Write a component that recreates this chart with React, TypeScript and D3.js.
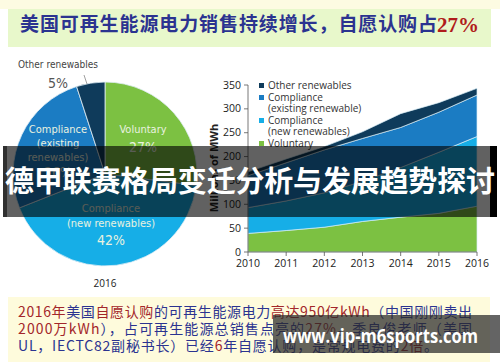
import React from 'react';
import * as d3 from 'd3';

// pie: share of 2016 renewable sales
const pieLabels = ['Voluntary', 'Compliance (new renewables)', 'Compliance (existing renewables)', 'Other renewables'];
const pieShares = [27, 42, 26, 5];

// stacked area: millions of MWh
const years = [2010, 2011, 2012, 2013, 2014, 2015, 2016];
const voluntary = [39, 45, 52, 64, 73, 81, 96];
const complianceNew = [54, 62, 72, 84, 104, 128, 146];
const complianceExisting = [67, 80, 90, 90, 84, 84, 87];
const otherRenewables = [8, 8, 7, 14, 29, 20, 14];
const yTicks = [0, 50, 100, 150, 200, 250, 300, 350];

const legendItems = [
  { key: 'other', lines: ['Other renewables'] },
  { key: 'existing', lines: ['Compliance', '(existing renewable)'] },
  { key: 'newc', lines: ['Compliance', '(new renewables)'] },
  { key: 'voluntary', lines: ['Voluntary'] },
];

const colors: Record<string, string> = {
  voluntary: '#7cc142',
  newc: '#16aee7',
  existing: '#1b7cc3',
  other: '#0f3b5b',
};
const pieColors = [colors.voluntary, colors.newc, colors.existing, colors.other];

const RED = '#a3262a';
const BLUE = '#2b3390';

const cond = "'Liberation Sans Narrow', 'DejaVu Sans Condensed', Roboto, sans-serif";
const cjk = "'Noto Sans CJK SC', sans-serif";

function PieChart() {
  const cx = 105;
  const cy = 174;
  const r = 92;
  const pie = d3.pie<number>().sort(null).value(d => d);
  const arcs = pie(pieShares);
  const arc = d3.arc<d3.PieArcDatum<number>>().innerRadius(0).outerRadius(r);
  const lbl = { fill: '#e9f2e0', fontFamily: cond, textAnchor: 'middle' as const };
  return (
    <g>
      <g transform={`translate(${cx},${cy})`}>
        {arcs.map((a, i) => (
          <path key={pieLabels[i]} d={arc(a) || ''} fill={pieColors[i]} stroke="#dfeef5" strokeWidth={0.8} />
        ))}
      </g>
      <text x={143} y={133} fontSize={11} {...lbl}>Voluntary</text>
      <text x={143} y={152} fontSize={14} {...lbl}>{pieShares[0]}%</text>
      <text x={58} y={133} fontSize={11} {...lbl}>Compliance</text>
      <text x={58} y={147} fontSize={11} {...lbl}>(existing</text>
      <text x={58} y={161} fontSize={11} {...lbl}>renewables)</text>
      <text x={58} y={177} fontSize={14} {...lbl}>{pieShares[2]}%</text>
      <text x={111} y={212} fontSize={11} {...lbl}>Compliance</text>
      <text x={111} y={227} fontSize={11} {...lbl}>(new renewables)</text>
      <text x={111} y={245} fontSize={14} {...lbl}>{pieShares[1]}%</text>
      <text x={58} y={68} fontSize={10} fill="#444" fontFamily={cond} textAnchor="middle">Other renewables</text>
      <text x={58} y={88} fontSize={14} fill="#555" fontFamily={cond} textAnchor="middle">{pieShares[3]}%</text>
      <line x1={84} y1={75} x2={87} y2={84} stroke="#777" strokeWidth={0.7} />
      <text x={105} y={287} fontSize={10} fill="#222" fontFamily="'Open Sans', sans-serif" textAnchor="middle">2016</text>
    </g>
  );
}

function AreaChart() {
  const x = d3.scaleLinear().domain([2010, 2016]).range([248, 477]);
  const y = d3.scaleLinear().domain([0, 350]).range([252, 85]);
  const rows = years.map((yr, i) => ({
    year: yr,
    voluntary: voluntary[i],
    newc: complianceNew[i],
    existing: complianceExisting[i],
    other: otherRenewables[i],
  }));
  const series = d3.stack<any>().keys(['voluntary', 'newc', 'existing', 'other'])(rows);
  const area = d3.area<any>()
    .x(d => x(d.data.year))
    .y0(d => y(d[0]))
    .y1(d => y(d[1]));
  const axisFont = "'Open Sans', sans-serif";
  return (
    <g>
      {series.map(s => (
        <path key={s.key} d={area(s) || ''} fill={colors[s.key]} stroke="#d8eef6" strokeWidth={0.7} />
      ))}
      <line x1={x(2010)} x2={x(2010)} y1={y(350)} y2={y(0)} stroke="#555" strokeWidth={0.8} />
      <line x1={x(2010)} x2={x(2016)} y1={y(0)} y2={y(0)} stroke="#555" strokeWidth={0.8} />
      {yTicks.map(t => (
        <g key={t}>
          <line x1={x(2010) - 4} x2={x(2010)} y1={y(t)} y2={y(t)} stroke="#555" strokeWidth={0.8} />
          <text x={x(2010) - 7} y={y(t) + 3.5} fontSize={10.5} fill="#222" fontFamily={axisFont} textAnchor="end">{t}</text>
        </g>
      ))}
      {years.map(yr => (
        <g key={yr}>
          <line x1={x(yr)} x2={x(yr)} y1={y(0)} y2={y(0) + 4} stroke="#555" strokeWidth={0.8} />
          <text x={x(yr)} y={y(0) + 15} fontSize={10.5} fill="#222" fontFamily={axisFont} textAnchor="middle">{yr}</text>
        </g>
      ))}
      <text transform={`translate(218,168) rotate(-90)`} fontSize={11} fontWeight="bold" fill="#222" fontFamily={axisFont} textAnchor="middle">Millions of MWh</text>
      {(() => {
        let yy = 89;
        return legendItems.map(item => {
          const top = yy;
          yy += item.lines.length * 11 + 1;
          return (
            <g key={item.key}>
              <rect x={259} y={top - 6} width={5} height={5} fill={colors[item.key]} />
              {item.lines.map((ln, j) => (
                <text key={j} x={268} y={top + j * 11} fontSize={10} fill="#333" fontFamily={axisFont}>{ln}</text>
              ))}
            </g>
          );
        });
      })()}
    </g>
  );
}

export default function App() {
  return (
    <svg width={500} height={362} style={{ position: 'absolute', left: 0, top: 0, background: '#fff' }}>
      <rect x={0} y={0} width={500} height={9} fill="#fdfbe2" />
      <rect x={8} y={9} width={483} height={38} fill="#e8f8cb" />
      <text x={20} y={31} fontSize={19} fontWeight="bold" fontFamily={cjk} fill={BLUE} textLength={417} lengthAdjust="spacing">美国可再生能源电力销售持续增长，自愿认购占</text>
      <text x={437} y={32} fontSize={21} fontWeight="bold" fontFamily="'Liberation Serif', serif" fill="#b01c1c">27%</text>

      <PieChart />
      <AreaChart />

      <rect x={8} y={297} width={482} height={65} fill="#fefbdc" />
      <g fontSize={14} fontFamily={cjk}>
        <text x={18} y={317} textLength={454} lengthAdjust="spacing">
          <tspan fill={RED}>2016年</tspan><tspan fill={BLUE}>美国</tspan><tspan fill={RED}>自愿认购</tspan><tspan fill={BLUE}>的可再生能源电力</tspan><tspan fill={RED}>高达950亿kWh</tspan><tspan fill={BLUE}>（中国刚刚卖出</tspan>
        </text>
        <text x={18} y={334} textLength={454} lengthAdjust="spacing">
          <tspan fill={RED}>2000万kWh</tspan><tspan fill={BLUE}>），占可再生能源总销售点亮的</tspan><tspan fill={RED}>27%</tspan><tspan fill={BLUE}>。季良俊老师（美国</tspan>
        </text>
        <text x={18} y={351} textLength={420} lengthAdjust="spacing">
          <tspan fill={BLUE}>UL，IECTC82副秘书长）已经</tspan><tspan fill={RED}>6</tspan><tspan fill={BLUE}>年自愿认购，是常规电费的</tspan><tspan fill={RED}>2倍</tspan><tspan fill={BLUE}>。</tspan>
        </text>
      </g>

      {/* overlay banner */}
      <rect x={3} y={146} width={494} height={71} fill="rgba(0,0,0,0.62)" />
      <rect x={490} y={146} width={7} height={71} fill="#000" />
      <rect x={3} y={146} width={4} height={71} fill="rgba(0,0,0,0.5)" />
      <text x={5} y={192} fontSize={29} fontWeight="bold" fontFamily={cjk} fill="#fff" textLength={490} lengthAdjust="spacing">德甲联赛格局变迁分析与发展趋势探讨</text>

      {/* watermark */}
      <rect x={273} y={315} width={227} height={38} fill="rgba(40,40,40,0.72)" />
      <text x={283} y={343} fontSize={19} fontWeight="bold" fontFamily="'Open Sans', sans-serif" fill="#fff" textLength={195} lengthAdjust="spacingAndGlyphs">www.vip-m6sports.com</text>
    </svg>
  );
}
